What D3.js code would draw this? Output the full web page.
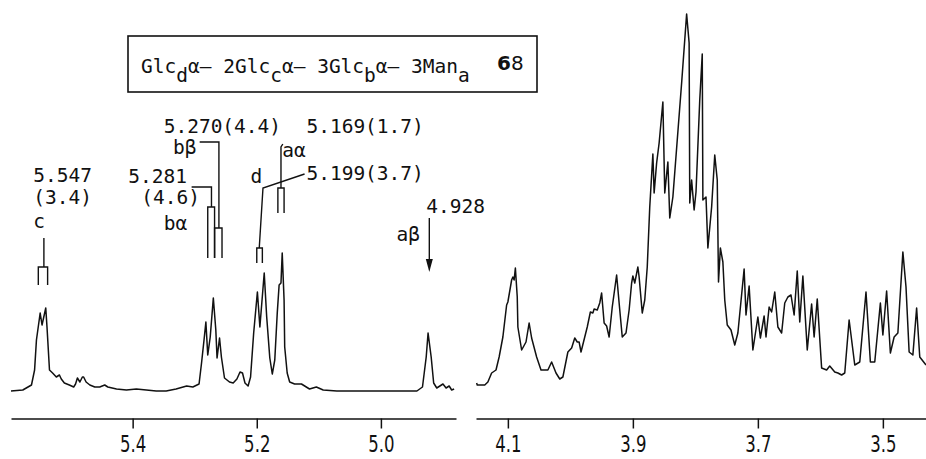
<!DOCTYPE html>
<html>
<head>
<meta charset="utf-8">
<script src="https://cdn.jsdelivr.net/npm/d3@7"></script>
<style>
  body { margin: 0; background: #fff; }
</style>
</head>
<body>
<div class="chart"></div>
<script>

// anomeric region (left panel), ppm / intensity
var leftShift = [5.596,5.577,5.563,5.558,5.555,5.549,5.546,5.540,5.538,5.534,
  5.529,5.523,5.518,5.515,5.510,5.502,5.495,5.492,5.489,5.485,
  5.481,5.479,5.475,5.469,5.461,5.453,5.445,5.440,5.426,5.410,
  5.394,5.378,5.362,5.346,5.330,5.313,5.303,5.293,5.289,5.285,
  5.282,5.279,5.275,5.270,5.266,5.264,5.260,5.257,5.252,5.244,
  5.238,5.232,5.227,5.223,5.219,5.214,5.210,5.205,5.199,5.195,
  5.188,5.184,5.179,5.175,5.171,5.167,5.164,5.161,5.159,5.156,
  5.155,5.151,5.147,5.139,5.128,5.115,5.104,5.093,5.071,5.029,
  4.985,4.942,4.933,4.927,4.924,4.919,4.915,4.910,4.905,4.900,
  4.895,4.890,4.886,4.882];
var leftIntensity = [0,1,6,21,51,78,66,83,64,21,
  18,14,16,12,8,6,4,7,13,9,
  14,14,9,6,4,4,6,4,2,1,
  2,1,0,0,2,5,4,7,28,51,
  69,36,54,93,61,33,53,34,13,9,
  8,12,19,18,8,5,14,58,99,64,
  118,74,33,17,31,78,106,108,138,91,
  44,18,9,7,7,2,4,1,0,0,
  0,0,4,34,58,34,8,3,5,7,
  3,5,1,2];

// ring proton region (right panel)
var rightShift = [4.150,4.149,4.137,4.132,4.126,4.119,4.114,4.108,4.102,4.100,
  4.094,4.092,4.090,4.088,4.085,4.084,4.078,4.071,4.066,4.062,
  4.054,4.047,4.036,4.030,4.023,4.017,4.012,4.004,3.998,3.993,
  3.989,3.986,3.983,3.977,3.973,3.968,3.964,3.962,3.957,3.953,
  3.950,3.946,3.942,3.938,3.933,3.926,3.922,3.917,3.911,3.906,
  3.902,3.900,3.897,3.892,3.890,3.885,3.881,3.877,3.873,3.868,
  3.866,3.862,3.858,3.852,3.849,3.844,3.841,3.836,3.829,3.822,
  3.814,3.810,3.809,3.806,3.802,3.799,3.793,3.789,3.788,3.783,
  3.780,3.774,3.769,3.765,3.763,3.760,3.756,3.753,3.749,3.743,
  3.737,3.732,3.722,3.719,3.714,3.708,3.700,3.696,3.690,3.687,
  3.682,3.678,3.673,3.668,3.662,3.657,3.652,3.647,3.642,3.637,
  3.633,3.628,3.621,3.614,3.610,3.605,3.598,3.590,3.585,3.577,
  3.572,3.566,3.561,3.554,3.545,3.537,3.527,3.520,3.513,3.504,
  3.500,3.494,3.488,3.482,3.476,3.468,3.463,3.458,3.452,3.446,
  3.441,3.431];
var rightIntensity = [8,6,6,9,18,21,34,54,86,89,
  111,114,111,123,94,64,41,49,68,53,
  34,21,21,29,18,12,14,39,43,53,
  49,49,39,54,64,79,78,82,81,88,
  98,68,65,54,84,116,88,54,58,81,
  108,115,108,124,114,78,91,124,184,237,
  198,228,248,289,198,229,173,194,251,308,
  377,348,188,211,181,199,291,337,191,194,
  143,184,236,211,109,143,129,91,66,61,
  46,58,122,76,105,41,74,53,75,54,
  84,79,99,64,58,88,94,96,76,120,
  69,115,41,87,54,92,23,21,25,19,
  18,16,18,71,26,29,99,29,29,88,
  56,100,38,54,58,139,104,39,36,83,
  34,26];

var leftTicks = [5.4, 5.2, 5.0];
var rightTicks = [4.1, 3.9, 3.7, 3.5];

// doublet markers: ppm of the two legs, top/bottom of legs (intensity units)
var markerLegs = [[5.552, 5.537], [5.279, 5.268], [5.268, 5.256], [5.200, 5.191], [5.166, 5.156]];
var markerSpan = [[124, 106], [184, 133], [163, 133], [143, 128], [203, 178]];

// leader lines (ppm, intensity)
var leaders = [
  [[5.543, 124], [5.543, 153]],
  [[5.273, 184], [5.273, 204], [5.305, 204]],
  [[5.261, 163], [5.261, 249], [5.292, 249]],
  [[5.196, 143], [5.190, 203], [5.123, 217]],
  [[5.161, 203], [5.161, 244], [5.158, 247]]
];

// peak labels: text, ppm of text start, baseline (intensity units)
var labelText = ["5.547", "(3.4)", "c", "5.281", "(4.6)", "bα", "5.270(4.4)", "bβ",
  "5.169(1.7)", "d", "aα", "5.199(3.7)", "4.928", "aβ"];
var labelShift = [5.560, 5.560, 5.560, 5.407, 5.386, 5.350, 5.350, 5.335,
  5.120, 5.210, 5.159, 5.120, 4.927, 4.975];
var labelLevel = [209, 187, 163, 208, 187, 161, 258, 237,
  258, 208, 234, 211, 178, 150];

var arrowShift = 4.922;
var arrowSpan = [173, 119];

var W = 926, H = 459;
var mono = "'DejaVu Sans Mono', monospace";

var svg = d3.select(".chart").append("svg")
    .attr("width", W)
    .attr("height", H);

var xLeft = d3.scaleLinear().domain([5.596, 4.879]).range([11, 456]);
var xRight = d3.scaleLinear().domain([4.151, 3.431]).range([476, 926]);
var y = d3.scaleLinear().domain([0, 380]).range([391, 11]);

function drawSpectrum(x, shifts, ints){
  var line = d3.line()
      .x(function(d){ return x(d[0]); })
      .y(function(d){ return y(d[1]); });
  svg.append("path")
      .datum(d3.zip(shifts, ints))
      .attr("d", line)
      .attr("fill", "none")
      .attr("stroke", "#111")
      .attr("stroke-width", 1.5)
      .attr("stroke-linejoin", "round");
}

function drawAxis(x, ticks){
  var g = svg.append("g")
      .attr("transform", "translate(0,418.5)")
      .call(d3.axisBottom(x).tickValues(ticks).tickFormat(d3.format(".1f"))
        .tickSize(10).tickSizeOuter(0));
  g.select(".domain").attr("stroke", "#111").attr("stroke-width", 1.5);
  g.selectAll(".tick line").attr("stroke", "#111").attr("stroke-width", 1.5);
  g.selectAll(".tick text")
      .attr("y", 34)
      .attr("dy", 0)
      .attr("fill", "#111")
      .attr("font-family", "'DejaVu Sans', sans-serif")
      .attr("font-size", 23)
      .attr("transform", "scale(0.72,1)");
}

drawSpectrum(xLeft, leftShift, leftIntensity);
drawSpectrum(xRight, rightShift, rightIntensity);
drawAxis(xLeft, leftTicks);
drawAxis(xRight, rightTicks);

// annotations on the anomeric peaks
var ann = svg.append("g")
    .attr("fill", "none")
    .attr("stroke", "#111")
    .attr("stroke-width", 1.4);

markerLegs.forEach(function(legs, i){
  var top = y(markerSpan[i][0]), bot = y(markerSpan[i][1]);
  ann.append("path")
      .attr("d", "M" + xLeft(legs[0]) + "," + bot + "V" + top +
                 "H" + xLeft(legs[1]) + "V" + bot);
});

var leaderLine = d3.line()
    .x(function(d){ return xLeft(d[0]); })
    .y(function(d){ return y(d[1]); });
leaders.forEach(function(pts){
  ann.append("path").attr("d", leaderLine(pts));
});

// arrow for a-beta
var ax = xLeft(arrowShift);
ann.append("line")
    .attr("x1", ax).attr("x2", ax)
    .attr("y1", y(arrowSpan[0])).attr("y2", y(arrowSpan[1]) - 10);
svg.append("path")
    .attr("d", "M" + (ax - 3.5) + "," + (y(arrowSpan[1]) - 13) + "L" + (ax + 3.5) + "," +
               (y(arrowSpan[1]) - 13) + "L" + ax + "," + y(arrowSpan[1]) + "Z")
    .attr("fill", "#111");

svg.append("g").selectAll("text")
    .data(labelText)
    .enter().append("text")
    .attr("x", function(d, i){ return xLeft(labelShift[i]); })
    .attr("y", function(d, i){ return y(labelLevel[i]); })
    .attr("font-family", mono)
    .attr("font-size", 19.5)
    .attr("fill", "#111")
    .text(function(d){ return d; });

// compound box
svg.append("rect")
    .attr("x", 128).attr("y", 36)
    .attr("width", 409).attr("height", 56)
    .attr("fill", "none")
    .attr("stroke", "#111")
    .attr("stroke-width", 1.6);

var parts = [["Glc", 0], ["d", 1], ["α– 2Glc", 0], ["c", 1], ["α– 3Glc", 0], ["b", 1], ["α– 3Man", 0], ["a", 1]];
var title = svg.append("text")
    .attr("x", 141)
    .attr("y", 73)
    .attr("font-family", mono)
    .attr("font-size", 19.5)
    .attr("fill", "#111")
    .attr("xml:space", "preserve");
var low = 0;
parts.forEach(function(p){
  var shift = p[1] ? 9 : 0;
  title.append("tspan")
      .attr("dy", shift - low)
      .text(p[0]);
  low = shift;
});

var num = svg.append("text")
    .attr("x", 497)
    .attr("y", 70)
    .attr("font-family", "'DejaVu Sans', sans-serif")
    .attr("font-size", 20)
    .attr("fill", "#111");
num.append("tspan").attr("font-weight", "bold").text("6");
num.append("tspan").text("8");

</script>
</body>
</html>
